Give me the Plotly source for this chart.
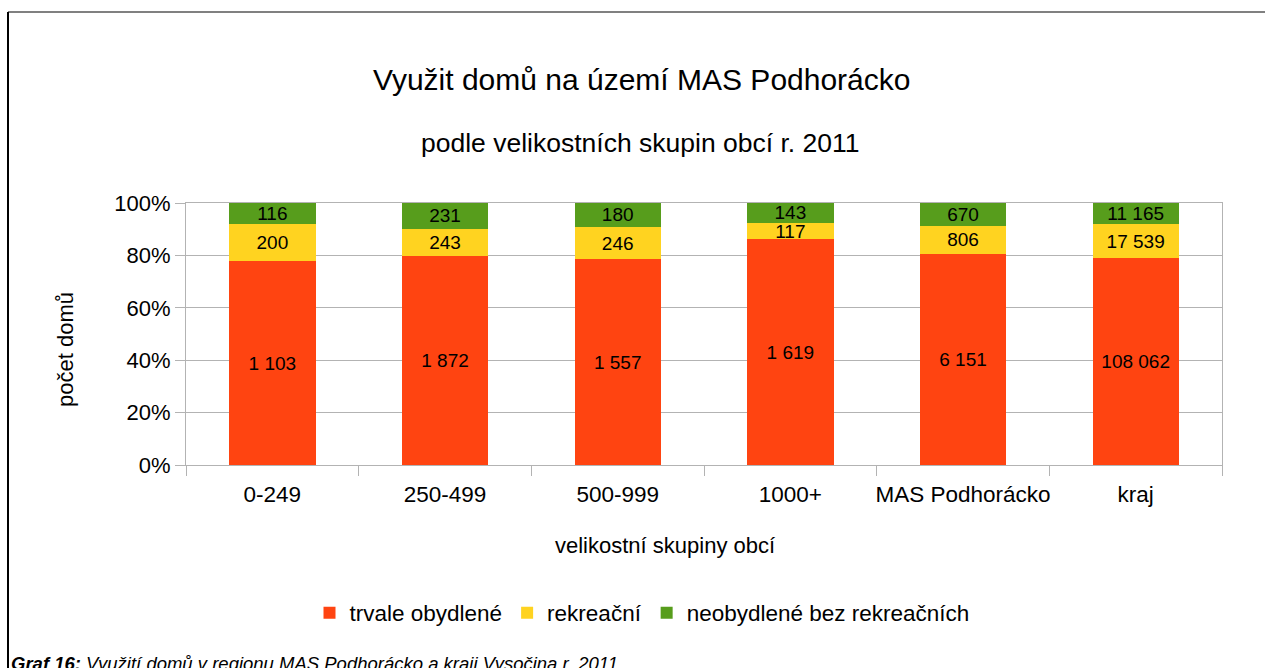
import plotly.graph_objects as go

categories = ["0-249", "250-499", "500-999", "1000+", "MAS Podhorácko", "kraj"]
trvale = [1103, 1872, 1557, 1619, 6151, 108062]
rekreacni = [200, 243, 246, 117, 806, 17539]
neobydlene = [116, 231, 180, 143, 670, 11165]
series_names = ["trvale obydlené", "rekreační", "neobydlené bez rekreačních"]
colors = ["#FF4411", "#FFD320", "#579D1C"]

title = "Využit domů na území MAS Podhorácko"
subtitle = "podle velikostních skupin obcí r. 2011"
y_title = "počet domů"
x_title = "velikostní skupiny obcí"
caption = "<b><i>Graf 16:</i></b><i> Využití domů v regionu MAS Podhorácko a kraji Vysočina r. 2011</i>"

W, H = 1265, 668
L, R, T, B = 186, 1222, 203, 465
FONT = "Liberation Sans, Arial, sans-serif"


def px(x):
    return (x - L) / (R - L)


def py(y):
    return (B - y) / (B - T)


def fmt(v):
    return f"{v:,}".replace(",", " ")


fig = go.Figure()
for name, vals, col in zip(series_names, [trvale, rekreacni, neobydlene], colors):
    fig.add_trace(go.Bar(
        name=name, x=categories, y=vals,
        marker=dict(color=col, line=dict(width=0)),
        text=[fmt(v) for v in vals], texttemplate="%{text}",
        textposition="inside", insidetextanchor="middle",
        textangle=0, constraintext="none",
        textfont=dict(family=FONT, size=19, color="black"),
        hoverinfo="skip",
    ))

grid = "#b3b3b3"
fig.update_layout(
    width=W, height=H,
    margin=dict(l=L, r=W - R, t=T, b=H - B),
    paper_bgcolor="white", plot_bgcolor="white",
    barmode="stack", barnorm="percent", bargap=0.5,
    font=dict(family=FONT, color="black"),
    showlegend=True,
    legend=dict(orientation="h", x=px(642), xanchor="center", y=py(613), yanchor="middle",
                font=dict(family=FONT, size=22.5, color="black"), traceorder="normal",
                itemwidth=30),
    xaxis=dict(showline=True, linecolor=grid, linewidth=1, mirror=True,
               ticks="outside", tickson="boundaries", ticklen=10, tickcolor=grid,
               tickangle=0, ticklabelstandoff=9,
               tickfont=dict(family=FONT, size=22.5, color="black"),
               showgrid=False, fixedrange=True),
    yaxis=dict(range=[0, 100], dtick=20, ticksuffix="%", showline=True, linecolor=grid,
               linewidth=1, mirror=True, ticks="outside", ticklen=10, tickcolor=grid,
               showgrid=True, gridcolor=grid, gridwidth=1, zeroline=False,
               tickfont=dict(family=FONT, size=22, color="black"), fixedrange=True),
)

ann = [
    dict(text=title, x=px(641), y=py(79), font=dict(size=30)),
    dict(text=subtitle, x=px(640), y=py(143), font=dict(size=26.5)),
    dict(text=y_title, x=px(65), y=py(350), textangle=-90, font=dict(size=22)),
    dict(text=x_title, x=px(665), y=py(545), font=dict(size=22)),
]
for a in ann:
    fig.add_annotation(xref="paper", yref="paper", showarrow=False,
                       xanchor="center", yanchor="middle",
                       text=a["text"], x=a["x"], y=a["y"], textangle=a.get("textangle", 0),
                       font=dict(family=FONT, color="black", size=a["font"]["size"]))

fig.add_annotation(xref="paper", yref="paper", showarrow=False, xanchor="left", yanchor="top",
                   x=px(9), y=py(651), text=caption,
                   font=dict(family=FONT, color="black", size=18.5))

fig.add_shape(type="line", xref="paper", yref="paper", x0=px(8), x1=px(1266), y0=py(12), y1=py(12),
              line=dict(color="#808080", width=2))
fig.add_shape(type="line", xref="paper", yref="paper", x0=px(8), x1=px(8), y0=py(12), y1=py(670),
              line=dict(color="black", width=2))

fig.write_html("out.html", config={"displayModeBar": False},
               post_script="document.body.style.margin='0';document.body.style.overflow='hidden';")
